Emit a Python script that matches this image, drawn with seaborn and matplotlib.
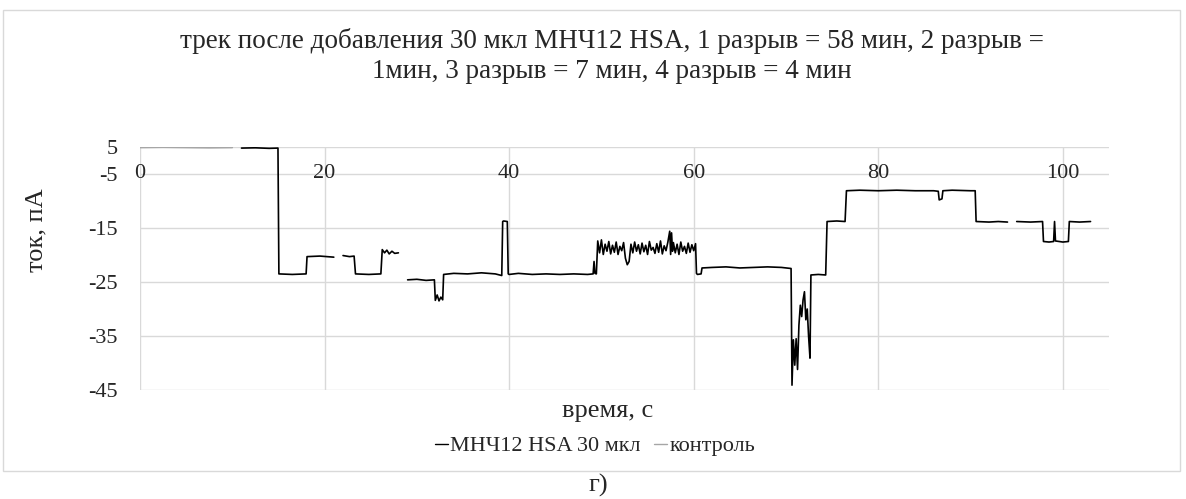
import numpy as np
import pandas as pd
import matplotlib
matplotlib.use("Agg")
import matplotlib.pyplot as plt
from matplotlib.patches import Rectangle
from matplotlib.lines import Line2D
import seaborn as sns

# ---------------- data ----------------
series_names = ["МНЧ12 HSA 30 мкл", "контроль"]

ctrl_x = [0.0, 2.5, 5.0, 7.5, 10.0]
ctrl_y = [4.9, 4.95, 4.9, 4.85, 4.9]

seg1_x = [11.0, 12.5, 14.0, 14.95, 15.05, 16.5, 18.0, 18.1, 19.5, 21.0]
seg1_y = [4.8, 4.85, 4.75, 4.8, -18.5, -18.6, -18.5, -15.3, -15.2, -15.4]

seg2_x = [22.0, 22.7, 23.2, 23.35, 24.8, 26.1, 26.25, 26.5, 26.75, 27.0, 27.3, 27.6, 28.0]
seg2_y = [-15.1, -15.3, -15.2, -18.5, -18.6, -18.5, -14.0, -14.6, -14.1, -14.8, -14.3, -14.7, -14.6]

seg3a_x = [29.0, 30.0, 31.0, 31.9, 32.0, 32.2, 32.4, 32.6, 32.8, 32.9, 34.0, 35.5, 37.0, 38.5,
           39.2, 39.3, 39.4, 39.8, 39.9, 40.0, 41.0, 42.5, 44.0, 45.5, 47.0, 48.5, 49.1, 49.2,
           49.3, 49.45]
seg3a_y = [-19.6, -19.5, -19.7, -19.6, -23.4, -22.4, -23.5, -22.8, -23.3, -18.6, -18.4, -18.5,
           -18.3, -18.5, -18.8, -8.8, -8.7, -8.8, -18.5, -18.6, -18.4, -18.6, -18.5, -18.6,
           -18.5, -18.6, -18.5, -16.2, -18.4, -18.5]

noisy_x = [49.6, 49.8, 50.0, 50.2, 50.4, 50.6, 50.8, 51.0, 51.2, 51.4,
           51.6, 51.8, 52.0, 52.2, 52.4, 52.6, 52.8, 53.0, 53.2, 53.4,
           53.6, 53.8, 54.0, 54.2, 54.4, 54.6, 54.8, 55.0, 55.2, 55.4,
           55.6, 55.8, 56.0, 56.2, 56.4, 56.6, 56.8, 57.0, 57.2, 57.4,
           57.5, 57.6, 57.7, 57.8,
           58.0, 58.2, 58.4, 58.6, 58.8, 59.0, 59.2, 59.4, 59.6, 59.8, 60.0, 60.2]
noisy_y = [-12.4, -14.6, -12.2, -14.9, -13.0, -14.3, -12.5, -14.8, -13.2, -14.5,
           -12.6, -14.9, -13.4, -14.2, -12.7, -15.6, -16.8, -16.2, -13.0, -14.6,
           -12.6, -14.3, -13.1, -14.8, -12.8, -14.4, -13.2, -14.9, -12.5, -14.1,
           -13.6, -14.7, -12.9, -14.5, -12.4, -14.8, -13.3, -14.2, -12.6, -10.6,
           -14.9, -10.9, -14.3, -12.7,
           -14.6, -13.0, -14.9, -12.6, -14.3, -13.4, -14.7, -12.8, -14.5, -13.1, -14.2, -12.9]

seg3b_x = [60.3, 60.4, 60.8, 60.9, 62.0, 63.5, 65.0, 66.5, 68.0, 69.5, 70.55,
           70.65, 70.8, 70.95, 71.1, 71.25, 71.4, 71.55, 71.7, 71.85, 72.0, 72.15, 72.3,
           72.45, 72.6, 72.7, 73.5, 74.3, 74.45, 75.5, 76.4, 76.55, 78.0, 80.0, 82.0,
           84.0, 86.0, 86.5, 86.6, 86.9, 87.0, 88.0, 90.0, 90.5, 90.6, 92.0, 93.0, 94.0]
seg3b_y = [-18.4, -18.6, -18.5, -17.4, -17.3, -17.2, -17.4, -17.3, -17.2, -17.3, -17.5,
           -39.1, -30.7, -35.4, -30.5, -36.2, -28.0, -24.3, -26.4, -23.3, -21.8, -27.0, -25.0,
           -30.1, -34.1, -18.7, -18.6, -18.7, -8.8, -8.7, -8.8, -3.1, -3.0, -3.1, -3.0,
           -3.1, -3.1, -3.2, -4.8, -4.6, -3.1, -3.0, -3.1, -3.1, -8.8, -8.9, -8.8, -8.9]

seg4_x = [95.0, 96.5, 97.8, 97.9, 98.5, 99.0, 99.1, 99.2, 100.0, 100.6, 100.7, 101.8, 103.0]
seg4_y = [-8.8, -8.9, -8.8, -12.5, -12.6, -12.5, -8.8, -12.4, -12.6, -12.5, -8.8, -8.9, -8.8]

x_ticks = [0, 20, 40, 60, 80, 100]
x_tick_labels = ["0", "20", "40", "60", "80", "100"]
y_ticks = [5, 0, -10, -20, -30, -40]
y_tick_labels = ["5", "-5", "-15", "-25", "-35", "-45"]

title_text = ("трек после добавления 30 мкл МНЧ12 HSA, 1 разрыв = 58 мин, 2 разрыв =\n"
              "1мин, 3 разрыв = 7 мин, 4 разрыв = 4 мин")

# ---------------- build table ----------------
parts = [
    (ctrl_x, ctrl_y, series_names[1], 0),
    (seg1_x, seg1_y, series_names[0], 1),
    (seg2_x, seg2_y, series_names[0], 2),
    (seg3a_x + noisy_x + seg3b_x, seg3a_y + noisy_y + seg3b_y, series_names[0], 3),
    (seg4_x, seg4_y, series_names[0], 4),
]
frames = []
for xs, ys, name, seg in parts:
    frames.append(pd.DataFrame({"x": xs, "y": ys, "series": name, "segment": seg}))
df = pd.concat(frames, ignore_index=True)

# ---------------- style ----------------
sns.set_theme(style="white")
plt.rcParams["font.family"] = ["Liberation Serif", "DejaVu Serif"]

W, H = 1186, 499
fig = plt.figure(figsize=(W / 100, H / 100), dpi=100)
L, R, T, B = 140, 1109, 147, 390
ax = fig.add_axes([L / W, 1 - B / H, (R - L) / W, (B - T) / H])

grid_c = "#d9d9d9"
colors = {series_names[0]: "#000000", series_names[1]: "#a6a6a6"}

for xt in x_ticks:
    ax.axvline(xt, color=grid_c, lw=1.0, zorder=0)
for yt in y_ticks:
    ax.axhline(yt, color=grid_c, lw=1.0, zorder=0)

sns.lineplot(data=df, x="x", y="y", hue="series", units="segment", estimator=None,
             sort=False, palette=colors, legend=False, lw=1.2, ax=ax)

ax.set_xlim(0, 105)
ax.set_ylim(-40, 5)
for s in ax.spines.values():
    s.set_visible(False)
ax.set_xticks([])
ax.set_yticks(y_ticks)
ax.set_yticklabels(y_tick_labels, fontsize=16)
ax.tick_params(axis="y", length=0, pad=16)
ax.set_xlabel("")
ax.set_ylabel("")

for xt, lab in zip(x_ticks, x_tick_labels):
    ax.text(xt, 0, lab, ha="center", va="center", fontsize=16, zorder=3)

# titles / labels
fig.text(612 / W, 1 - 56 / H, title_text, ha="center", va="center", fontsize=19.5,
         linespacing=1.3)
fig.text(36 / W, 1 - 230 / H, "ток, пА", ha="center", va="center", rotation=90, fontsize=19)
fig.text(608 / W, 1 - 411 / H, "время, с", ha="center", va="center", fontsize=19)

handles = [Line2D([0], [0], color=colors[n], lw=1.0) for n in series_names]
fig.legend(handles, series_names, loc="center", bbox_to_anchor=(595 / W, 1 - 446 / H),
           ncol=2, frameon=False, fontsize=16, handlelength=0.6, handletextpad=0.1,
           columnspacing=0.6)

fig.add_artist(Rectangle((3 / W, 1 - 471 / H), 1177 / W, 461 / H, transform=fig.transFigure,
                         fill=False, edgecolor=grid_c, lw=1.0))
fig.text(598 / W, 1 - 485 / H, "г)", ha="center", va="center", fontsize=19)

fig.savefig("out.png", dpi=100)
